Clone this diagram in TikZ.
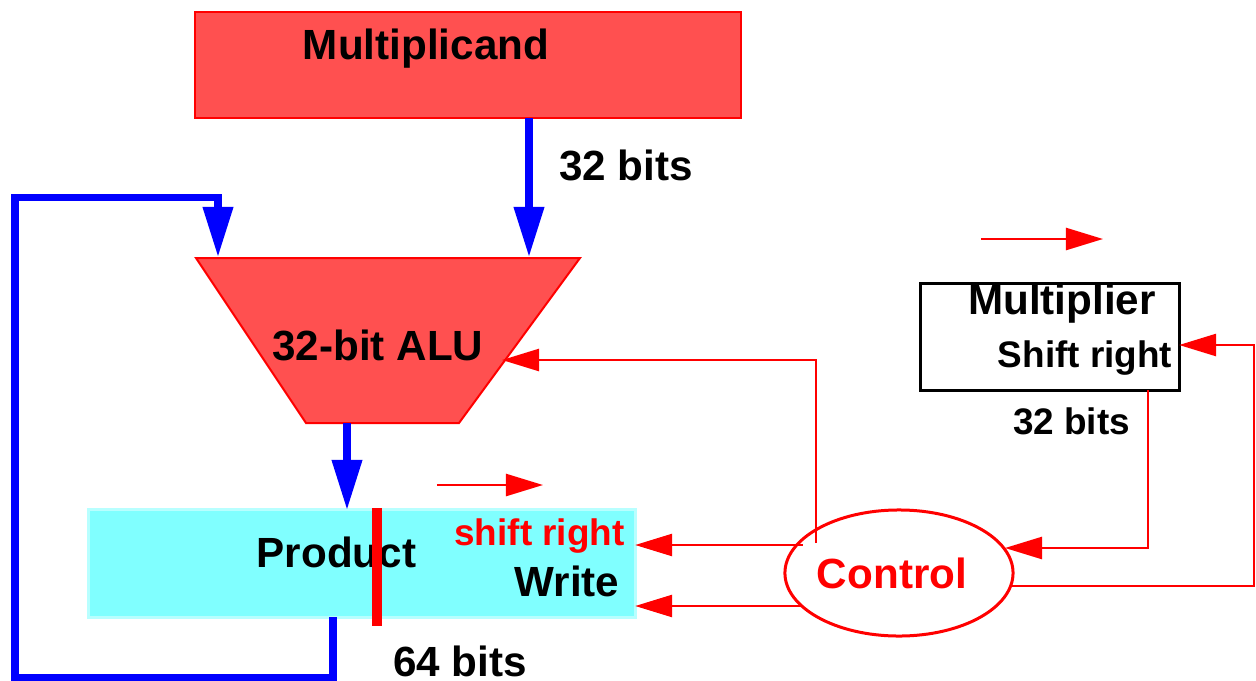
\documentclass[tikz,border=0pt]{standalone}
\usepackage{fontspec}
\setmainfont{Liberation Sans}
\usetikzlibrary{arrows.meta,shapes.geometric,calc}
\definecolor{unitred}{HTML}{FF5050}
\definecolor{regcyan}{HTML}{80FFFF}
\definecolor{regedge}{HTML}{B8FFFF}
\tikzset{
  bigtxt/.style={font=\fontsize{12pt}{14pt}\selectfont\bfseries, inner sep=0pt, anchor=base},
  smalltxt/.style={font=\fontsize{10.5pt}{12pt}\selectfont\bfseries, inner sep=0pt, anchor=base},
  bus/.style={draw=blue, line width=0.07cm, -{Triangle[length=0.5cm,width=0.29cm]}},
  ctl/.style={draw=red, line width=0.025cm, -{Triangle[length=0.37cm,width=0.22cm]}},
  regbox/.style={rectangle, inner sep=0pt, outer sep=0pt}
}
\begin{document}
\begin{tikzpicture}[x=0.01cm,y=-0.01cm]
\useasboundingbox (0,0) rectangle (1256,681);

% registers and units
\node[regbox, fill=unitred, draw=red, line width=0.02cm,
      minimum width=5.46cm, minimum height=1.06cm] (multiplicand) at (468,65) {};
\node[bigtxt] (mcandtxt) at (426,59) {Multiplicand};

\fill[unitred] (196,258) -- (580,258) -- (459,423) -- (306,423) -- cycle;
\draw[red, line width=0.02cm] (196,258) -- (580,258) -- (459,423) -- (306,423) -- cycle;
\node[bigtxt] (alu) at (378,360) {32-bit ALU};

\node[regbox, fill=regcyan, draw=regedge, line width=0.03cm,
      minimum width=5.46cm, minimum height=1.07cm] (product) at (362,563.5) {};
\node[bigtxt] (prodtxt) at (336.5,567) {Product};
\node[smalltxt, text=red] (shtxt) at (539.5,545) {shift right};
\node[bigtxt] (writetxt) at (567,596) {Write};

\node[regbox, draw=black, line width=0.03cm,
      minimum width=2.58cm, minimum height=1.06cm] (multiplier) at (1050,337) {};
\node[bigtxt] (mplrtxt) at (1062,314) {Multiplier};
\node[smalltxt] (mplrsh) at (1085,367) {Shift right};

\node[ellipse, draw=red, line width=0.03cm, inner sep=0pt,
      minimum width=2.28cm, minimum height=1.26cm] (control) at (899,573) {};
\node[bigtxt, text=red] (ctltxt) at (892,588) {Control};

% width labels
\node[bigtxt] (w32a) at (626,180) {32 bits};
\node[smalltxt] (w32b) at (1071.5,434) {32 bits};
\node[bigtxt] (w64) at (460,676) {64 bits};

% connection points
\coordinate (aluA) at (218,257);
\coordinate (aluB) at (529,257);
\coordinate (aluOut) at (347,423);
\coordinate (aluCtl) at (502,360);
\coordinate (loopx) at (333,0);
\coordinate (ctlUp) at (816,543);
\coordinate (ctlSh) at (803,545);
\coordinate (ctlWr) at (802,606);
\coordinate (ctlIn) at (1005,548);
\coordinate (ctlOut) at (1012,586);
\coordinate (mplrOutx) at (1148,0);
\coordinate (mplrIny) at (0,345);
\coordinate (sa1) at (437,485);
\coordinate (sa2) at (543,485);
\coordinate (sb1) at (981,239);
\coordinate (sb2) at (1103,239);

% data paths
\draw[bus] (multiplicand.south -| aluB) -- (aluB);
\draw[bus] (product.south -| loopx) -- ++(0,60) -| (15,197) -| (aluA);
\draw[bus] (aluOut) -- (product.north -| aluOut);

% split marker on the product register
\draw[red, line width=0.09cm] (377,508) -- (377,626);

% control paths
\draw[ctl] (ctlUp) |- (aluCtl);
\draw[ctl] (ctlSh) -- (product.east |- ctlSh);
\draw[ctl] (ctlWr) -- (product.east |- ctlWr);
\draw[ctl] (multiplier.south -| mplrOutx) |- (ctlIn);
\draw[ctl] (ctlOut) -- (1254,586) |- (multiplier.east |- mplrIny);

% shift direction hints
\draw[ctl] (sa1) -- (sa2);
\draw[ctl] (sb1) -- (sb2);
\end{tikzpicture}
\end{document}
